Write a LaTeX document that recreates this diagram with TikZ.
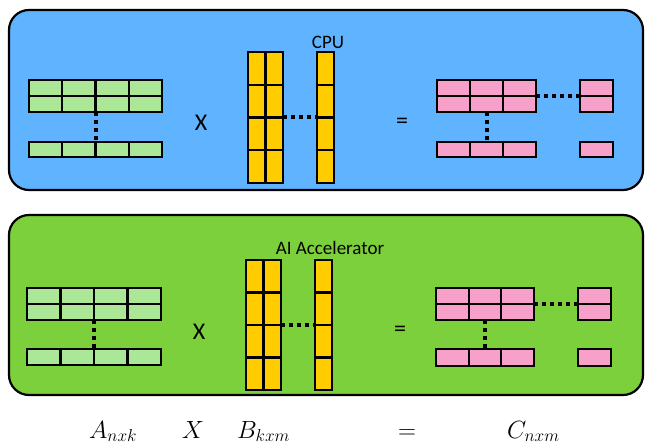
\documentclass[tikz,border=0pt]{standalone}
\usepackage{fontspec}
\setmainfont{Carlito}
\usetikzlibrary{calc}

\definecolor{cpublue}{RGB}{95,179,255}
\definecolor{accgreen}{RGB}{124,208,60}
\definecolor{cellgreen}{RGB}{170,232,152}
\definecolor{cellyellow}{RGB}{255,204,0}
\definecolor{cellpink}{RGB}{246,160,202}

\tikzset{
  panel/.style={draw=black, line width=2.2pt, rounded corners=20pt},
  block/.style={rectangle, draw=black, line width=2.4pt, inner sep=0pt, outer sep=0pt},
  divider/.style={draw=black, line width=2.1pt},
  dotline/.style={draw=black, line width=4pt, dash pattern=on 4pt off 4pt},
  optext/.style={font=\fontsize{24}{26}\selectfont, inner sep=0pt},
  unitname/.style={font=\fontsize{19}{21}\selectfont, inner sep=0pt},
  formula/.style={font=\fontsize{26}{30}\selectfont, inner sep=0pt}
}

% #1 name, #2 x0, #3 y0, #4 x1, #5 y1, #6 columns, #7 rows, #8 fill colour
\newcommand\gridblock[8]{%
  \node[block, fill=#8, minimum width={(#4-#2)*1pt}, minimum height={(#5-#3)*1pt}]
    (#1) at ({(#2+#4)/2},{(#3+#5)/2}) {};
  \ifnum#6>1
    \foreach \i in {2,...,#6}{%
      \draw[divider] ($(#1.north west)!{(\i-1)/#6}!(#1.north east)$) --
                     ($(#1.south west)!{(\i-1)/#6}!(#1.south east)$);}%
  \fi
  \ifnum#7>1
    \foreach \j in {2,...,#7}{%
      \draw[divider] ($(#1.north west)!{(\j-1)/#7}!(#1.south west)$) --
                     ($(#1.north east)!{(\j-1)/#7}!(#1.south east)$);}%
  \fi
}

\begin{document}
\begin{tikzpicture}[x=1pt, y=-1pt]
  \useasboundingbox (0,0) rectangle (645,446);

  % ---------- CPU ----------
  \draw[panel, fill=cpublue] (9,10) rectangle (643,190);
  \node[unitname] (cpu) at (328,42) {CPU};

  \gridblock{a1t}{29}{80}{162}{112}{4}{2}{cellgreen}
  \gridblock{a1b}{29}{142}{162}{157}{4}{1}{cellgreen}
  \draw[dotline] (a1t.south) -- (a1b.north);

  \node[optext] (x1) at (201,123) {X};

  \gridblock{b1l}{248}{52}{283}{183}{2}{4}{cellyellow}
  \gridblock{b1r}{317}{52}{334}{183}{1}{4}{cellyellow}
  \draw[dotline] (b1l.east) -- (b1r.west);

  \node[optext] (eq1) at (402,123) {=};

  \gridblock{c1t}{437}{80}{536}{112}{3}{2}{cellpink}
  \gridblock{c1b}{437}{142}{536}{157}{3}{1}{cellpink}
  \gridblock{c1r}{580}{80}{613}{112}{1}{2}{cellpink}
  \gridblock{c1s}{580}{142}{613}{157}{1}{1}{cellpink}
  \draw[dotline] (c1t.east) -- (c1r.west);
  \draw[dotline] (c1t.south) -- (c1b.north);

  % ---------- AI Accelerator ----------
  \draw[panel, fill=accgreen] (9,215) rectangle (643,395);
  \node[unitname] (acc) at (330,248) {AI Accelerator};

  \gridblock{a2t}{27}{288}{161}{320}{4}{2}{cellgreen}
  \gridblock{a2b}{27}{349}{161}{365}{4}{1}{cellgreen}
  \draw[dotline] (a2t.south) -- (a2b.north);

  \node[optext] (x2) at (199,332) {X};

  \gridblock{b2l}{246}{260}{281}{390}{2}{4}{cellyellow}
  \gridblock{b2r}{315}{260}{332}{390}{1}{4}{cellyellow}
  \draw[dotline] (b2l.east) -- (b2r.west);

  \node[optext] (eq2) at (400,331) {=};

  \gridblock{c2t}{436}{288}{534}{320}{3}{2}{cellpink}
  \gridblock{c2b}{436}{349}{534}{366}{3}{1}{cellpink}
  \gridblock{c2r}{578}{288}{611}{320}{1}{2}{cellpink}
  \gridblock{c2s}{578}{349}{611}{366}{1}{1}{cellpink}
  \draw[dotline] (c2t.east) -- (c2r.west);
  \draw[dotline] (c2t.south) -- (c2b.north);

  % ---------- formula ----------
  \node[formula, anchor=base west] (fa) at (89,438) {$A_{nxk}$};
  \node[formula, anchor=base] (fx) at (193,438) {$X$};
  \node[formula, anchor=base west] (fb) at (237,438) {$B_{kxm}$};
  \node[formula, anchor=base] (feq) at (407,438) {$=$};
  \node[formula, anchor=base west] (fc) at (507,438) {$C_{nxm}$};
\end{tikzpicture}
\end{document}
